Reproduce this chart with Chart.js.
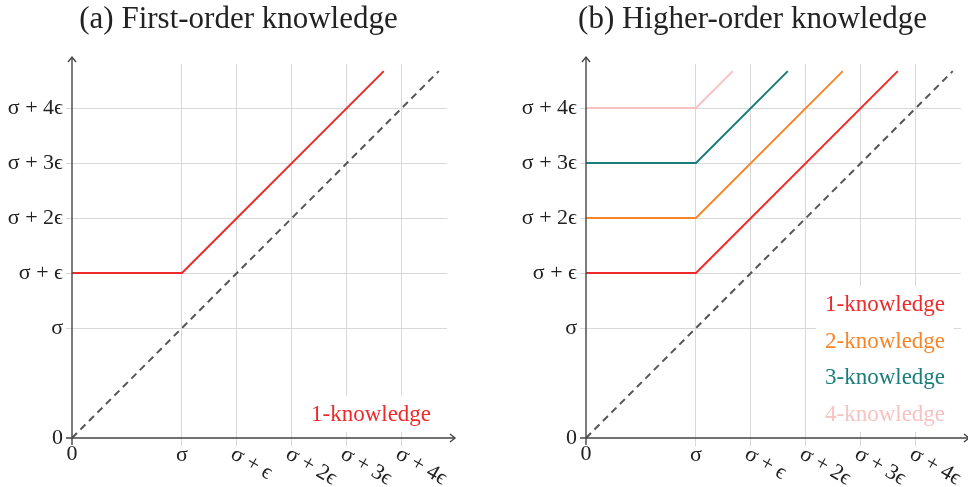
<!DOCTYPE html>
<html>
<head>
<meta charset="utf-8">
<script src="https://cdn.jsdelivr.net/npm/chart.js@4.4.1/dist/chart.umd.min.js"></script>
<style>
  html, body { margin: 0; padding: 0; background: #fff; overflow: hidden; width: 968px; height: 487px; }
  #wrap { position: relative; width: 968px; height: 487px; overflow: hidden; }
  canvas { position: absolute; top: 0; }
  #c1 { left: 0; }
  #c2 { left: 514px; }
</style>
</head>
<body>
<div id="wrap">
  <canvas id="c1" width="484" height="487"></canvas>
  <canvas id="c2" width="484" height="487"></canvas>
</div>
<script>
// ---- data (units of epsilon, sigma = 2 epsilon) ----
const tickValues = [0, 2, 3, 4, 5, 6];
const xTickLabels = ['0', 'σ', 'σ + ϵ', 'σ + 2ϵ', 'σ + 3ϵ', 'σ + 4ϵ'];
const yTickLabels = ['0', 'σ', 'σ + ϵ', 'σ + 2ϵ', 'σ + 3ϵ', 'σ + 4ϵ'];

const diagX = [0, 6.67];
const diagY = [0, 6.67];

const know1X = [0, 2, 5.67];
const know1Y = [3, 3, 6.67];
const know2X = [0, 2, 4.67];
const know2Y = [4, 4, 6.67];
const know3X = [0, 2, 3.67];
const know3Y = [5, 5, 6.67];
const know4X = [0, 2, 2.67];
const know4Y = [6, 6, 6.67];

const seriesNames = ['1-knowledge', '2-knowledge', '3-knowledge', '4-knowledge'];
const seriesColors = ['#ee2a2a', '#f7862a', '#1a7d7a', '#f7c2c2'];

const titles = ['(a) First-order knowledge', '(b) Higher-order knowledge'];

const xMax = 6.82, yMax = 6.8;
const FONT = "'Liberation Serif', 'DejaVu Serif', serif";
const AXIS = '#444';
const GRID = '#d8d8d8';

function pts(xs, ys) { return xs.map((x, i) => ({ x: x, y: ys[i] })); }

function knowDataset(i, xs, ys) {
  return {
    label: seriesNames[i], data: pts(xs, ys), borderColor: seriesColors[i],
    borderWidth: 2, pointRadius: 0, fill: false, tension: 0, inLegend: true
  };
}
function diagDataset() {
  return {
    label: 'diagonal', data: pts(diagX, diagY), borderColor: '#555',
    borderWidth: 2, borderDash: [7, 5], pointRadius: 0, fill: false, inLegend: false
  };
}

const axesPlugin = {
  id: 'axesPlugin',
  afterDraw(chart, args, opts) {
    const ctx = chart.ctx;
    const xs = chart.scales.x, ys = chart.scales.y;
    const ca = chart.chartArea;
    const x0 = xs.getPixelForValue(0), y0 = ys.getPixelForValue(0);
    ctx.save();
    // title
    ctx.fillStyle = '#222';
    ctx.font = '31px ' + FONT;
    ctx.textAlign = 'center';
    ctx.textBaseline = 'middle';
    ctx.fillText(opts.title, ca.left + 166.5, 20);
    // legend box with coloured text
    const items = chart.data.datasets.filter(d => d.inLegend);
    if (items.length) {
      ctx.font = '23px ' + FONT;
      const rowH = 36.7;
      const textLeft = ca.right - 136;
      const bottomRow = ca.bottom - 23;
      const top = bottomRow - rowH * (items.length - 1) - 19;
      ctx.fillStyle = '#fff';
      ctx.fillRect(textLeft - 9, top, ca.right - 7 - (textLeft - 9), ca.bottom - 6 - top);
      ctx.textAlign = 'left';
      ctx.textBaseline = 'middle';
      items.forEach((d, i) => {
        ctx.fillStyle = d.borderColor;
        ctx.fillText(d.label, textLeft, bottomRow - rowH * (items.length - 1 - i));
      });
    }
    // axes with arrow tips
    ctx.strokeStyle = AXIS;
    ctx.lineWidth = 1.4;
    const xEnd = ca.right + 8, yEnd = ca.top - 7;
    ctx.beginPath();
    ctx.moveTo(x0 - 6, y0); ctx.lineTo(xEnd, y0);
    ctx.moveTo(x0, y0 + 7); ctx.lineTo(x0, yEnd);
    ctx.stroke();
    ctx.beginPath();
    ctx.moveTo(xEnd - 5, y0 - 4); ctx.lineTo(xEnd, y0); ctx.lineTo(xEnd - 5, y0 + 4);
    ctx.moveTo(x0 - 4, yEnd + 5); ctx.lineTo(x0, yEnd); ctx.lineTo(x0 + 4, yEnd + 5);
    ctx.stroke();
    // x tick labels (first two upright, others rotated clockwise)
    ctx.fillStyle = '#222';
    ctx.font = '22px ' + FONT;
    tickValues.forEach((v, i) => {
      const px = xs.getPixelForValue(v);
      if (i < 2) {
        ctx.textAlign = 'center';
        ctx.textBaseline = 'top';
        ctx.fillText(xTickLabels[i], px, y0 + (i === 0 ? 5 : 6));
      } else {
        ctx.save();
        ctx.translate(px + 1, y0 + 5);
        ctx.rotate(Math.PI / 6);
        ctx.textAlign = 'left';
        ctx.textBaseline = 'top';
        ctx.fillText(xTickLabels[i], 0, 0);
        ctx.restore();
      }
    });
    ctx.restore();
  }
};

function makeChart(id, datasets, title) {
  return new Chart(document.getElementById(id), {
    type: 'line',
    data: { datasets: datasets },
    plugins: [axesPlugin],
    options: {
      responsive: false,
      animation: false,
      devicePixelRatio: 1,
      layout: { padding: { left: 0, right: 37, top: 64, bottom: 0 } },
      plugins: {
        legend: { display: false },
        tooltip: { enabled: false },
        title: { display: false },
        axesPlugin: { title: title }
      },
      scales: {
        x: {
          type: 'linear', min: 0, max: xMax,
          afterBuildTicks: s => { s.ticks = tickValues.map(v => ({ value: v })); },
          afterFit: s => { s.height = 49; },
          ticks: { display: false },
          grid: {
            color: c => (c.tick && c.tick.value === 0) ? 'rgba(0,0,0,0)' : GRID,
            lineWidth: 1, drawTicks: true, tickLength: 8
          },
          border: { display: false }
        },
        y: {
          type: 'linear', min: 0, max: yMax,
          afterBuildTicks: s => { s.ticks = tickValues.map(v => ({ value: v })); },
          afterFit: s => { s.width = 72; },
          ticks: {
            padding: 3, color: '#222',
            font: { family: FONT, size: 22 },
            callback: (v, i) => yTickLabels[i]
          },
          grid: {
            color: c => (c.tick && c.tick.value === 0) ? 'rgba(0,0,0,0)' : GRID,
            lineWidth: 1, drawTicks: true, tickLength: 6
          },
          border: { display: false }
        }
      }
    }
  });
}

makeChart('c1', [knowDataset(0, know1X, know1Y), diagDataset()], titles[0]);
makeChart('c2', [
  knowDataset(0, know1X, know1Y),
  knowDataset(1, know2X, know2Y),
  knowDataset(2, know3X, know3Y),
  knowDataset(3, know4X, know4Y),
  diagDataset()
], titles[1]);
</script>
</body>
</html>
